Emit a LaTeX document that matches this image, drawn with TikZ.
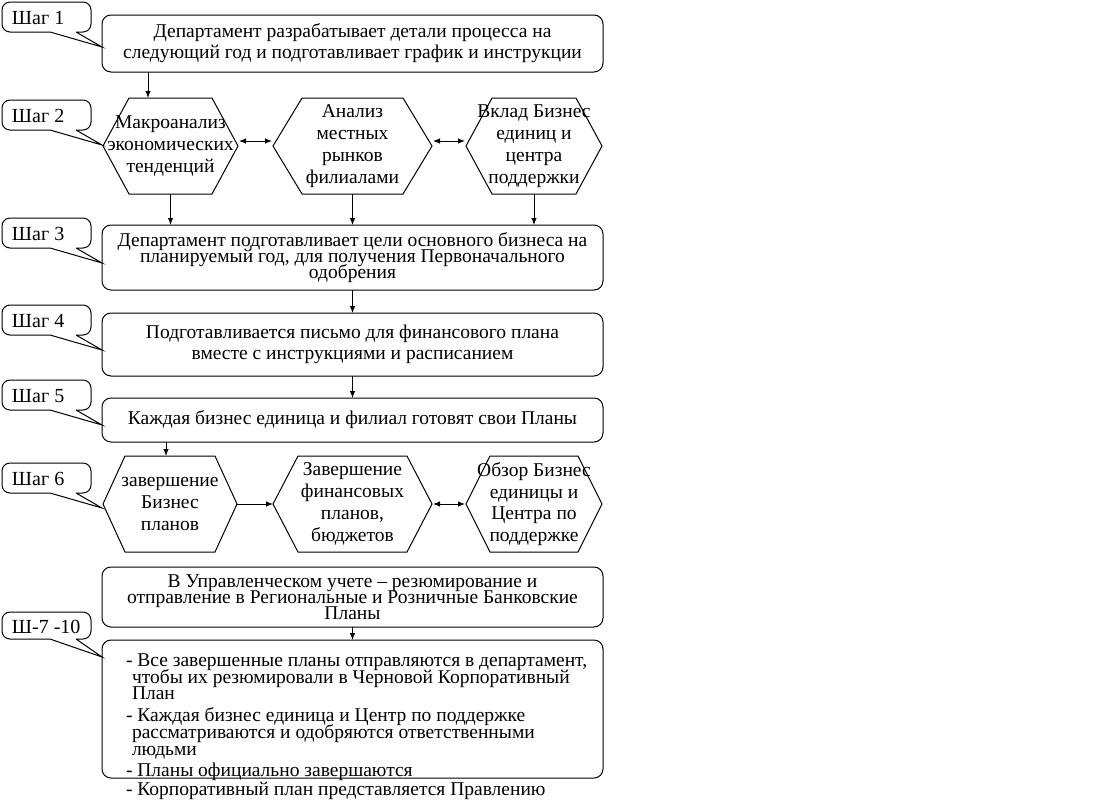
\documentclass[tikz,border=0pt]{standalone}
\usepackage{fontspec}
\setmainfont{Liberation Serif}
\usetikzlibrary{arrows.meta}
\setlength{\lineskiplimit}{-30pt}
\setlength{\lineskip}{0pt}
\begin{document}
\begin{tikzpicture}[x=1pt,y=-1pt, line width=1pt,
  every node/.style={inner sep=0pt, outer sep=0pt},
  mainbox/.style={draw, rounded corners=9pt, minimum width=501pt, align=center},
  txtA/.style={font=\fontsize{19.5}{21}\selectfont},
  txtB/.style={font=\fontsize{19.5}{16}\selectfont},
  hexnode/.style={minimum height=96pt, align=center, font=\fontsize{19.5}{21.8}\selectfont},
  arr/.style={-{Latex[length=7pt,width=5.5pt]}},
  dbl/.style={{Latex[length=7pt,width=5.5pt]}-{Latex[length=7pt,width=5.5pt]}},
  lbl/.style={anchor=west, font=\fontsize{20}{21}\selectfont}]
\useasboundingbox[fill=white] (0,0) rectangle (1100,801);

% main boxes
\node[mainbox, txtA, minimum height=57pt] (b1) at (352.5,43.5)
  {Департамент разрабатывает детали процесса на\\следующий год и подготавливает график и инструкции};
\node[mainbox, txtB, minimum height=65pt] (b3) at (352.5,257.5)
  {Департамент подготавливает цели основного бизнеса на\\планируемый год, для получения Первоначального\\одобрения};
\node[mainbox, txtA, minimum height=63pt] (b4) at (352.5,344.5)
  {Подготавливается письмо для финансового плана\\вместе с инструкциями и расписанием};
\node[mainbox, txtA, minimum height=44pt] (b5) at (352.5,420)
  {Каждая бизнес единица и филиал готовят свои Планы};
\node[mainbox, txtB, minimum height=60pt] (b7) at (352.5,597)
  {В Управленческом учете – резюмирование и\\отправление в Региональные и Розничные Банковские\\Планы};
\node[mainbox, minimum height=138pt] (b8) at (352.5,709) {};
\node[anchor=north west, align=left, font=\fontsize{19.5}{16.6}\selectfont] (t8) at (126,654)
  {- Все завершенные планы отправляются в департамент,\\
   \hspace*{6pt}чтобы их резюмировали в Черновой Корпоративный\\
   \hspace*{6pt}План\\[5.4pt]
   - Каждая бизнес единица и Центр по поддержке\\
   \hspace*{6pt}рассматриваются и одобряются ответственными\\
   \hspace*{6pt}людьми\\[4.4pt]
   - Планы официально завершаются\\[2.4pt]
   - Корпоративный план представляется Правлению};

% hexagons
\node[hexnode, minimum width=135pt] (h1) at (170.5,146) {Макроанализ\\экономических\\тенденций};
\node[hexnode, minimum width=159pt] (h2) at (352.5,146) {Анализ\\местных\\рынков\\филиалами};
\node[hexnode, minimum width=136pt] (h3) at (534,146) {Вклад Бизнес\\единиц и\\центра\\поддержки};
\node[hexnode, minimum width=134pt] (h4) at (170,504) {завершение\\Бизнес\\планов};
\node[hexnode, minimum width=159pt] (h5) at (352.5,504) {Завершение\\финансовых\\планов,\\бюджетов};
\node[hexnode, minimum width=136pt] (h6) at (534,504) {Обзор Бизнес\\единицы и\\Центра по\\поддержке};
\foreach \n/\i in {h1/26,h2/29,h3/26,h4/22,h5/25,h6/24}
  \draw ([xshift=\i pt]\n.north west) -- ([xshift=-\i pt]\n.north east) -- (\n.east)
     -- ([xshift=-\i pt]\n.south east) -- ([xshift=\i pt]\n.south west) -- (\n.west) -- cycle;

% callouts
\foreach \t/\y/\h/\name in {Шаг 1/2/30/s1, Шаг 2/100/30/s2, Шаг 3/218/30/s3, Шаг 4/305/30/s4,
    Шаг 5/380/30/s5, Шаг 6/463/30/s6, Ш-7 -10/612/27/s7}{
  \draw (76,\y+\h) -- (102,\y+45) -- (50,\y+\h) [rounded corners=8pt] -- (2,\y+\h) -- (2,\y)
     -- (91,\y) -- (91,\y+\h) -- (76,\y+\h);
  \node[lbl] (\name) at (12,\y+\h/2+1) {\t};
}

% connectors
\coordinate (c1) at ([xshift=-22.5pt]h1.north);
\draw[arr] (b1.south -| c1) -- (c1);
\draw[dbl] ([shift={(1pt,5pt)}]h1.east) -- ([shift={(-1pt,5pt)}]h2.west);
\draw[dbl] ([shift={(1pt,5pt)}]h2.east) -- ([shift={(-1pt,5pt)}]h3.west);
\foreach \n in {h1,h2,h3} \draw[arr] (\n.south) -- (\n.south |- b3.north);
\draw[arr] (b3.south) -- (b4.north);
\draw[arr] (b4.south) -- (b5.north);
\coordinate (c4) at ([xshift=-4pt]h4.north);
\draw[arr] (b5.south -| c4) -- (c4);
\draw[arr] (h4.east) -- (h5.west);
\draw[dbl] ([xshift=1pt]h5.east) -- ([xshift=-1pt]h6.west);
\draw[arr] (b7.south) -- (b8.north);
\end{tikzpicture}
\end{document}
